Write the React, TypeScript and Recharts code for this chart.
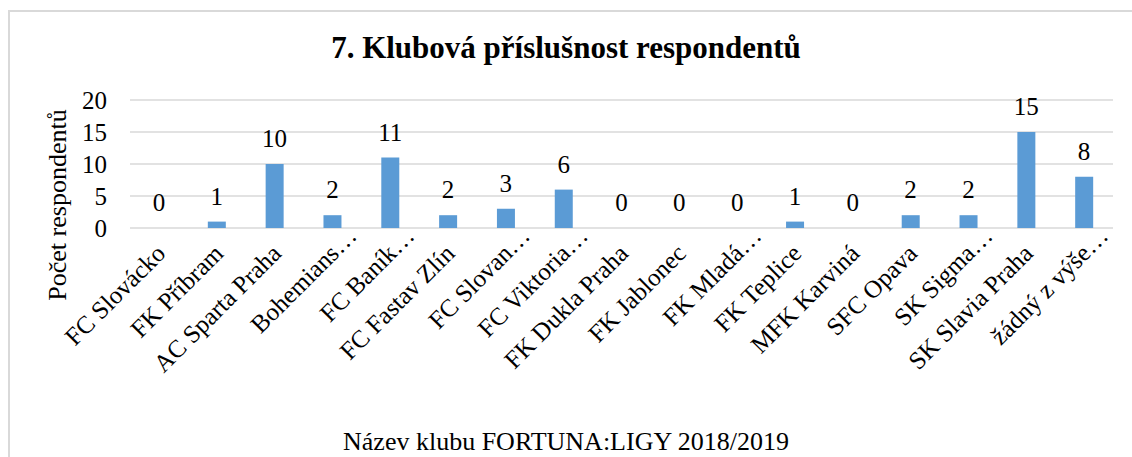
import { ComposedChart, Bar, Line, XAxis, YAxis, CartesianGrid, LabelList } from "recharts";

const CLUBS = [
  "FC Slovácko",
  "FK Příbram",
  "AC Sparta Praha",
  "Bohemians…",
  "FC Baník…",
  "FC Fastav Zlín",
  "FC Slovan…",
  "FC Viktoria…",
  "FK Dukla Praha",
  "FK Jablonec",
  "FK Mladá…",
  "FK Teplice",
  "MFK Karviná",
  "SFC Opava",
  "SK Sigma…",
  "SK Slavia Praha",
  "žádný z výše…",
];
const RESPONDENTS = [0, 1, 10, 2, 11, 2, 3, 6, 0, 0, 0, 1, 0, 2, 2, 15, 8];
const Y_TICKS = [0, 5, 10, 15, 20];

const TITLE = "7. Klubová příslušnost respondentů";
const Y_TITLE = "Počet respondentů";
const X_TITLE = "Název klubu FORTUNA:LIGY 2018/2019";

const data = CLUBS.map((club, i) => ({ club, count: RESPONDENTS[i] }));

const FONT = '"Liberation Serif", "Times New Roman", serif';

// excel cuts long names with "…" that hangs past the anchor
function ClubTick(props: any) {
  const { x, y, payload } = props;
  const label: string = payload.value;
  const cut = label.endsWith("…");
  const main = cut ? label.slice(0, -1) : label;
  return (
    <g transform={`translate(${x + 8},${y + 27}) rotate(-45)`}>
      <text textAnchor="end" fontSize={25} fontFamily={FONT} fill="#000">
        {main}
      </text>
      {cut && (
        <text textAnchor="start" fontSize={25} fontFamily={FONT} fill="#000">
          …
        </text>
      )}
    </g>
  );
}

export default function App() {
  return (
    <div
      style={{
        position: "absolute",
        left: 0,
        top: 0,
        width: 1132,
        height: 457,
        overflow: "hidden",
        background: "#fff",
        fontFamily: FONT,
      }}
    >
      <div
        style={{
          position: "absolute",
          left: 8,
          top: 10,
          width: 1200,
          height: 600,
          border: "2px solid #D9D9D9",
        }}
      />
      <ComposedChart
        width={1132}
        height={457}
        data={data}
        margin={{ top: 100, right: 19, left: 0, bottom: 29 }}
      >
        <CartesianGrid vertical={false} stroke="#D9D9D9" strokeWidth={1.5} />
        <XAxis
          dataKey="club"
          interval={0}
          height={200}
          axisLine={false}
          tickLine={false}
          tickSize={0}
          tickMargin={0}
          tick={(p: any) => <ClubTick {...p} />}
        />
        <YAxis
          width={130}
          domain={[0, 20]}
          ticks={Y_TICKS}
          interval={0}
          axisLine={false}
          tickLine={false}
          tickSize={0}
          tickMargin={23}
          tick={{ fontSize: 25, fontFamily: FONT, fill: "#000" }}
        />
        <Bar dataKey="count" fill="#5B9BD5" barSize={18} isAnimationActive={false} />
        {/* invisible line only to carry the value labels, zeros included */}
        <Line
          dataKey="count"
          stroke="none"
          dot={false}
          activeDot={false}
          legendType="none"
          isAnimationActive={false}
        >
          <LabelList
            dataKey="count"
            position="top"
            offset={17}
            fill="#000"
            fontSize={25}
            fontFamily={FONT}
          />
        </Line>
      </ComposedChart>
      <div
        style={{
          position: "absolute",
          left: 0,
          top: 32,
          width: 1132,
          textAlign: "center",
          fontSize: 31,
          lineHeight: "31px",
          fontWeight: "bold",
          whiteSpace: "nowrap",
        }}
      >
        {TITLE}
      </div>
      <div
        style={{
          position: "absolute",
          left: 58,
          top: 205,
          transform: "translate(-50%, -50%) rotate(-90deg)",
          fontSize: 26,
          lineHeight: "26px",
          whiteSpace: "nowrap",
        }}
      >
        {Y_TITLE}
      </div>
      <div
        style={{
          position: "absolute",
          left: 0,
          top: 431,
          width: 1132,
          textAlign: "center",
          fontSize: 26,
          lineHeight: "22px",
          whiteSpace: "nowrap",
        }}
      >
        {X_TITLE}
      </div>
    </div>
  );
}
